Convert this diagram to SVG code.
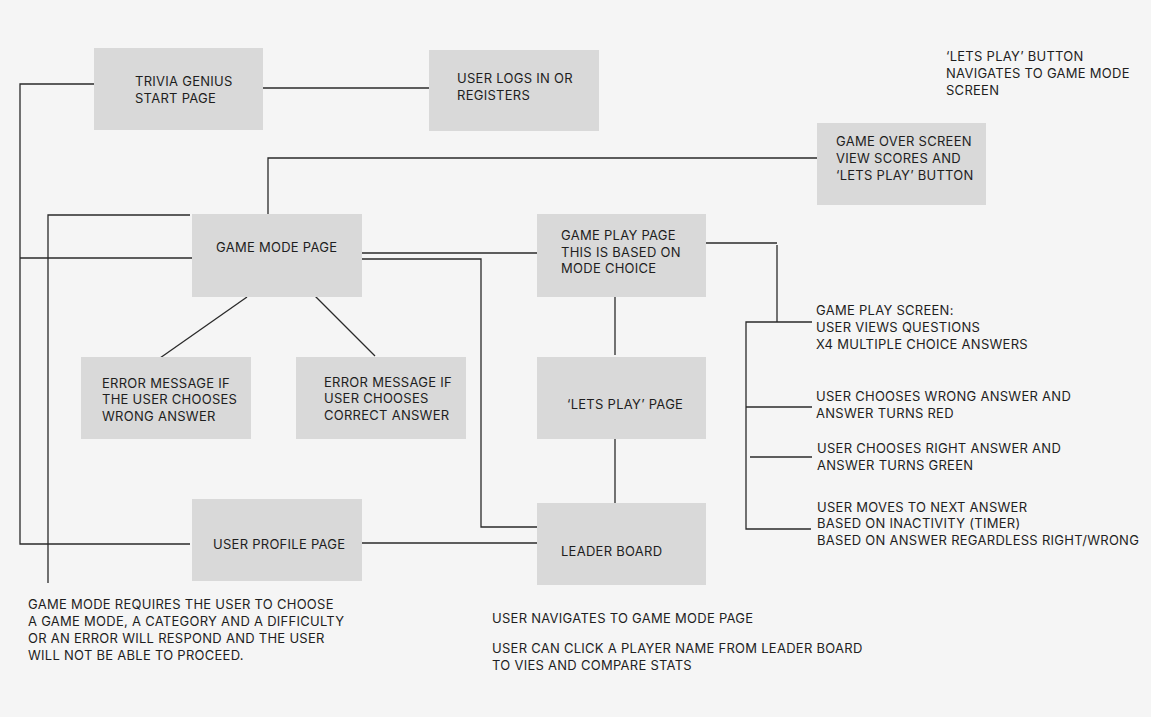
<svg xmlns="http://www.w3.org/2000/svg" width="1151" height="717" viewBox="0 0 1151 717">
<style>
.box{fill:#d9d9d9}
.t{font-family:Inter,"Liberation Sans",sans-serif;font-size:13px;letter-spacing:0.27px;fill:#1e1e1e}
.c{fill:none;stroke:#2a2a2a;stroke-width:1.3}
</style>
<rect width="1151" height="717" fill="#f5f5f5"/>
<g id="connectors">
<polyline class="c" points="94,84 20,84 20,544 190,544"/>
<line class="c" x1="263" y1="88" x2="429" y2="88"/>
<polyline class="c" points="268,214 268,158 817,158"/>
<polyline class="c" points="190,215 48,215 48,583"/>
<line class="c" x1="20" y1="258" x2="193" y2="258"/>
<line class="c" x1="362" y1="253" x2="537" y2="253"/>
<polyline class="c" points="359,259 481,259 481,527 537,527"/>
<line class="c" x1="247" y1="297" x2="160" y2="358"/>
<line class="c" x1="315" y1="296" x2="375" y2="356"/>
<line class="c" x1="615" y1="297" x2="615" y2="355"/>
<line class="c" x1="615" y1="439" x2="615" y2="505"/>
<line class="c" x1="362" y1="543" x2="537" y2="543"/>
<polyline class="c" points="706,243 777,243"/>
<line class="c" x1="777" y1="245" x2="777" y2="322"/>
<polyline class="c" points="812,322 746,322 746,529 811,529"/>
<line class="c" x1="746" y1="407" x2="812" y2="407"/>
<line class="c" x1="750" y1="457" x2="812" y2="457"/>
</g>
<g id="start">
<rect class="box" x="94" y="48" width="169" height="82"/>
<text class="t" x="135" y="86">TRIVIA GENIUS</text>
<text class="t" x="135" y="103">START PAGE</text>
</g>
<g id="login">
<rect class="box" x="429" y="50" width="170" height="81"/>
<text class="t" x="457" y="83">USER LOGS IN OR</text>
<text class="t" x="457" y="100">REGISTERS</text>
</g>
<g id="gameover">
<rect class="box" x="817" y="123" width="169" height="82"/>
<text class="t" x="836" y="146">GAME OVER SCREEN</text>
<text class="t" x="836" y="163">VIEW SCORES AND</text>
<text class="t" x="836" y="180">‘LETS PLAY’ BUTTON</text>
</g>
<g id="gamemode">
<rect class="box" x="192" y="214" width="170" height="83"/>
<text class="t" x="216" y="252">GAME MODE PAGE</text>
</g>
<g id="gameplay">
<rect class="box" x="537" y="214" width="169" height="83"/>
<text class="t" x="561" y="240">GAME PLAY PAGE</text>
<text class="t" x="561" y="257">THIS IS BASED ON</text>
<text class="t" x="561" y="273">MODE CHOICE</text>
</g>
<g id="errwrong">
<rect class="box" x="81" y="357" width="170" height="82"/>
<text class="t" x="102" y="388">ERROR MESSAGE IF</text>
<text class="t" x="102" y="404">THE USER CHOOSES</text>
<text class="t" x="102" y="421">WRONG ANSWER</text>
</g>
<g id="errcorrect">
<rect class="box" x="296" y="357" width="170" height="82"/>
<text class="t" x="324" y="387">ERROR MESSAGE IF</text>
<text class="t" x="324" y="403">USER CHOOSES</text>
<text class="t" x="324" y="420">CORRECT ANSWER</text>
</g>
<g id="letsplay">
<rect class="box" x="537" y="357" width="169" height="82"/>
<text class="t" x="567" y="409">‘LETS PLAY’ PAGE</text>
</g>
<g id="profile">
<rect class="box" x="192" y="499" width="170" height="82"/>
<text class="t" x="213" y="549">USER PROFILE PAGE</text>
</g>
<g id="leaderboard">
<rect class="box" x="537" y="503" width="169" height="82"/>
<text class="t" x="561" y="556">LEADER BOARD</text>
</g>
<g id="notes">
<text class="t" x="946" y="61">‘LETS PLAY’ BUTTON</text>
<text class="t" x="946" y="78">NAVIGATES TO GAME MODE</text>
<text class="t" x="946" y="95">SCREEN</text>
<text class="t" x="816" y="315">GAME PLAY SCREEN:</text>
<text class="t" x="816" y="332">USER VIEWS QUESTIONS</text>
<text class="t" x="816" y="349">X4 MULTIPLE CHOICE ANSWERS</text>
<text class="t" x="816" y="401">USER CHOOSES WRONG ANSWER AND</text>
<text class="t" x="816" y="418">ANSWER TURNS RED</text>
<text class="t" x="817" y="453">USER CHOOSES RIGHT ANSWER AND</text>
<text class="t" x="817" y="470">ANSWER TURNS GREEN</text>
<text class="t" x="817" y="512">USER MOVES TO NEXT ANSWER</text>
<text class="t" x="817" y="528">BASED ON INACTIVITY (TIMER)</text>
<text class="t" x="817" y="545">BASED ON ANSWER REGARDLESS RIGHT/WRONG</text>
<text class="t" x="28" y="609">GAME MODE REQUIRES THE USER TO CHOOSE</text>
<text class="t" x="28" y="626">A GAME MODE, A CATEGORY AND A DIFFICULTY</text>
<text class="t" x="28" y="643">OR AN ERROR WILL RESPOND AND THE USER</text>
<text class="t" x="28" y="660">WILL NOT BE ABLE TO PROCEED.</text>
<text class="t" x="492" y="623">USER NAVIGATES TO GAME MODE PAGE</text>
<text class="t" x="492" y="653">USER CAN CLICK A PLAYER NAME FROM LEADER BOARD</text>
<text class="t" x="492" y="670">TO VIES AND COMPARE STATS</text>
</g>
</svg>
